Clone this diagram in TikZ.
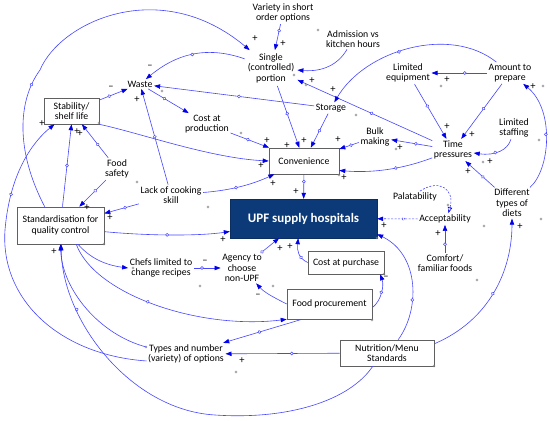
\documentclass[tikz,border=0pt]{standalone}
\usepackage{fontspec}
\setmainfont{Carlito}
\usetikzlibrary{arrows.meta,decorations.markings}
\definecolor{lk}{RGB}{70,70,255}
\definecolor{lkh}{RGB}{0,0,235}
\definecolor{navy}{RGB}{12,58,120}
\begin{document}
\begin{tikzpicture}[x=1pt,y=-1pt,
  every node/.style={font=\fontsize{9.8}{10.5}\selectfont, align=center, inner sep=1.5pt},
  box/.style={draw=gray!75!black, fill=white, line width=0.6pt},
  upfbox/.style={draw=navy!80!black, fill=navy, text=white, font=\fontsize{13}{14}\selectfont\bfseries},
  lnk/.style={draw=lk, line width=0.6pt, -{Triangle[length=6pt,width=4.4pt,color=lkh]}},
  hc/.style={postaction={decorate,decoration={markings,mark=at position #1 with {\draw[lk,line width=0.5pt,fill=white] (0,0) circle (1.5pt);}}}},
  hc/.default=0.5,
  dsh/.style={dash pattern=on 2pt off 1.5pt},
  sg/.style={font=\fontsize{10.5}{10}\selectfont, inner sep=0pt},
  hd/.style={draw=gray, line width=0.4pt}
]
\useasboundingbox (0,0) rectangle (550,421);
\fill[white] (0,0) rectangle (550,421);

% nodes
\node (var) at (283,13) {Variety in short\\order options};
\node[inner sep=3pt] (single) at (271,68) {Single\\(controlled)\\portion};
\node (adm) at (353,39) {Admission vs\\kitchen hours};
\node (waste) at (140,84) {Waste};
\node[box, minimum width=55pt, minimum height=26pt] (stab) at (71.5,111) {Stability/\\shelf life};
\node (costp) at (207,124) {Cost at\\production};
\node (storage) at (331,108) {Storage};
\node (limeq) at (408,73) {Limited\\equipment};
\node (amount) at (510,73) {Amount to\\prepare};
\node (bulk) at (375,137) {Bulk\\making};
\node (tp) at (453,150) {Time\\pressures};
\node (staff) at (514,128) {Limited\\staffing};
\node[box, minimum width=70pt, minimum height=26pt] (conv) at (304,161) {Convenience};
\node[upfbox, minimum width=147pt, minimum height=39pt] (upf) at (303.5,218.5) {UPF supply hospitals};
\node (pal) at (415,197) {Palatability};
\node (acc) at (445,219) {Acceptability};
\node (comfort) at (445,263) {Comfort/\\familiar foods};
\node (diets) at (512,203) {Different\\types of\\diets};
\node[box, minimum width=87pt, minimum height=37pt] (std) at (60.5,225.5) {Standardisation for\\quality control};
\node (fsafe) at (117,169) {Food\\safety};
\node (lack) at (171,195) {Lack of cooking\\skill};
\node (chefs) at (161,268) {Chefs limited to\\change recipes};
\node (agency) at (242,268) {Agency to\\choose\\non-UPF};
\node[box, minimum width=76pt, minimum height=23pt] (costpur) at (346,262.5) {Cost at purchase};
\node[box, minimum width=85pt, minimum height=30pt] (fproc) at (329.5,304) {Food procurement};
\node (types) at (186,354) {Types and number\\(variety) of options};
\node[box, minimum width=94pt, minimum height=26pt] (nutr) at (387,353) {Nutrition/Menu\\Standards};

% links
\draw[lnk,hc=0.33] (std.130) .. controls (15,150) and (18,100) .. (40,70) .. controls (60,22) and (160,-25) .. (single);
\draw[lnk,hc] (single) .. controls (205,45) and (175,55) .. (waste);
\draw[lnk,hc=0.47] (storage) -- (waste);
\draw[lnk,hc=0.35] (stab) -- (waste);
\draw[lnk,hc=0.4] (waste) -- (costp);
\draw[lnk,hc] (lack) -- (waste);
\draw[lnk,hc=0.45] (costp) -- (conv);
\draw[lnk] (stab.south east) .. controls (140,133) and (210,158) .. (conv.west);
\draw[lnk,hc=0.45] (lack) .. controls (235,190) and (255,183) .. (conv);
\draw[lnk,hc=0.45] (single) -- (conv);
\draw[lnk,hc] (storage) -- (conv);
\draw[lnk,hc=0.4] (bulk) -- (conv);
\draw[lnk,hc=0.4] (tp) -- (bulk);
\draw[lnk,hc=0.4] (tp) .. controls (400,170) and (370,173) .. (conv.-15);
\draw[lnk,hc=0.45] (tp) -- (single);
\draw[lnk,hc=0.55] (amount) .. controls (450,25) and (365,50) .. (storage);
\draw[lnk] (adm) .. controls (338,65) and (322,72) .. (single);
\draw[lnk,hc=0.25] (var) -- (single);
\draw[lnk,hc=0.4] (amount) -- (limeq);
\draw[lnk,hc=0.4] (limeq) -- (tp);
\draw[lnk,hc=0.45] (amount) -- (tp);
\draw[lnk,hc] (staff) .. controls (508,150) and (495,156) .. (tp);
\draw[lnk,hc=0.4] (diets) -- (tp);
\draw[lnk,hc] (diets) .. controls (550,170) and (555,110) .. (amount);
\draw[lnk,dsh,hc=0.92] (pal.50) .. controls (440,178) and (455,190) .. (acc.60);
\draw[lnk,dsh,hc=0.35] (acc) -- (upf);
\draw[lnk,hc=0.3] (comfort) -- (acc);
\draw[lnk,hc=0.3] (conv) -- (upf);
\draw[lnk,hc] (std.-8) .. controls (150,236) and (200,236) .. (upf.-170);
\draw[lnk,hc=0.05] (agency) -- (upf);
\draw[lnk,hc=0.3] (costpur.west) .. controls (298,258) and (297,250) .. (upf.-105);
\draw[lnk,hc=0.3] (chefs) -- (agency);
\draw[lnk] (std.-47) .. controls (90,258) and (105,265) .. (chefs.west);
\draw[lnk] (fproc.west) .. controls (275,298) and (265,293) .. (agency);
\draw[lnk,hc] (fproc.-5) .. controls (382,300) and (384,285) .. (costpur.-19);
\draw[lnk,hc=0.4] (std.-50) .. controls (95,295) and (200,330) .. (fproc.south west);
\draw[lnk,hc=0.54] (fproc.-151) -- (types);
\draw[lnk,hc=0.42] (nutr) -- (types);
\draw[lnk] (types.170) .. controls (100,335) and (62,290) .. (std.south);
\draw[lnk,hc=0.84] (nutr.-137) .. controls (350,400) and (290,420) .. (215,415) .. controls (130,410) and (62,320) .. (std.-88);
\draw[lnk,hc=0.75] (types.190) .. controls (60,355) and (0,300) .. (5,230) .. controls (10,170) and (35,140) .. (stab.-142);
\draw[lnk,hc] (std.84) -- (stab.south);
\draw[lnk,hc=0.4] (fsafe) -- (stab);
\draw[lnk,hc=0.4] (fsafe) -- (std);
\draw[lnk,hc=0.4] (lack) -- (std);
\draw[lnk,hc=0.35] (nutr.50) .. controls (420,310) and (420,255) .. (upf.-12);
\draw[lnk,hc] (nutr.11) .. controls (490,320) and (512,270) .. (diets);

% polarity signs
\foreach \x/\y/\s [count=\i] in {255/39/+, 283/44/+, 150/67/–, 111/88/–, 137/100/+, 312/81/+, 333/90/+,
  447/80/+, 447/127/+, 472/135/+, 490/162/+, 468/172/+, 533/87/+, 267/141/+, 287/146/+, 304/141/+,
  338/140/+, 400/148/+, 344/178/+, 261/166/+, 273/184/+, 296/192/+, 223/240/+, 280/249/+, 290/247/+,
  384/226/+, 438/234/+, 520/227/+, 205/262/–, 258/296/–, 386/278/–, 242/361/+, 42/124/+, 77/132/+,
  80/134/+, 87/208/+, 110/218/+, 54/252/+}
  \node[sg] (sg\i) at (\x,\y) {\s};

% handle circles
\foreach \x/\y in {162/91, 137/182, 208/207, 318/30, 294/75, 306/85, 356/115, 441/86, 396/149, 483/162,
  543/86, 539/140, 200/286, 273/286, 236/372, 104/244, 99/123, 339/175, 377/238, 384/274, 372/320,
  434/366, 484/226, 477/280, 541/219, 448/205, 133/268, 241/133, 146/347}
  \draw[hd] (\x,\y) circle (1.2pt);
\end{tikzpicture}
\end{document}
